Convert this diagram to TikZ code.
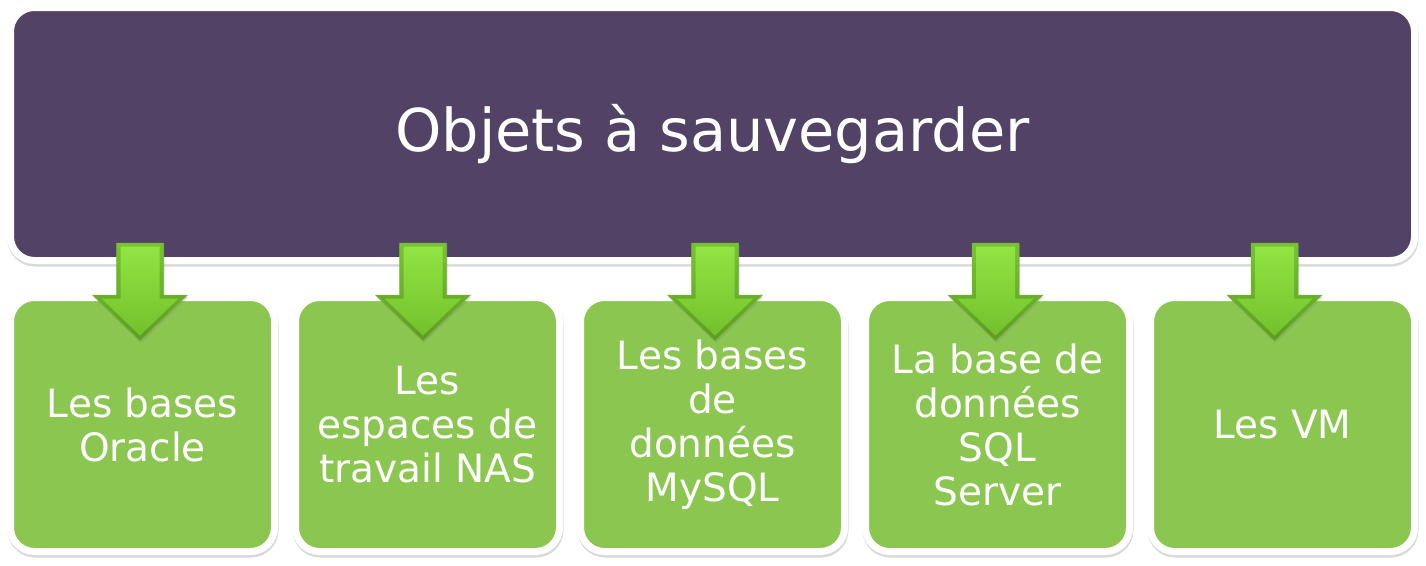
\documentclass[tikz,border=0pt]{standalone}
\usepackage{fontspec}
\setmainfont{DejaVu Sans}
\usetikzlibrary{positioning, shadows}

\definecolor{titlepurple}{RGB}{82,66,102}
\definecolor{boxgreen}{RGB}{139,199,80}
\definecolor{arrowlight}{RGB}{146,230,68}
\definecolor{arrowmid}{RGB}{118,196,46}
\definecolor{arrowdark}{RGB}{92,158,32}

\tikzset{
    titlebox/.style={rectangle, rounded corners=24pt, draw=white, line width=7pt, outer sep=0pt,
        fill=titlepurple, text=white, minimum width=1404pt, minimum height=253pt,
        font=\fontsize{59}{66}\selectfont,
        drop shadow={draw=black, line width=7pt, fill=none, opacity=.15, shadow xshift=.5pt, shadow yshift=-2.5pt}},
    itembox/.style={rectangle, rounded corners=24pt, draw=white, line width=7pt, outer sep=0pt,
        fill=boxgreen, text=white, minimum width=264pt, minimum height=254pt, align=center,
        font=\fontsize{39}{44}\selectfont,
        drop shadow={draw=black, line width=7pt, fill=none, opacity=.15, shadow xshift=.5pt, shadow yshift=-2.5pt}},
    arrowouter/.style={draw=arrowdark!80, line width=.5pt, top color=arrowmid, bottom color=arrowdark,
        drop shadow={opacity=.25, shadow xshift=1pt, shadow yshift=-2pt}},
    arrowinner/.style={top color=arrowlight, bottom color=arrowmid!90!arrowdark}
}

\begin{document}
\begin{tikzpicture}[x=1pt, y=-1pt, node distance=21pt]
    \useasboundingbox (0,0) rectangle (1426,565);

    \node[titlebox] (top) at (712.5,134) {Objets à sauvegarder};

    \node[itembox] (b1) at (142.5,424.5) {Les bases\\Oracle};
    \node[itembox, right=of b1] (b2) {Les\\espaces de\\travail NAS};
    \node[itembox, right=of b2] (b3) {Les bases\\de\\données\\MySQL};
    \node[itembox, right=of b3] (b4) {La base de\\données\\SQL\\Server};
    \node[itembox, right=of b4] (b5) {Les VM};

    % green arrows from the title down into each box
    \foreach \i/\dx in {1/-2.5, 2/-4.5, 3/2.5, 4/-2, 5/-8} {
        \coordinate (s\i) at ([xshift=\dx pt, yshift=17.5pt]b\i.north |- top.south);
        \path[arrowouter] (s\i) ++(-23.5,0) -- ++(47,0) -- ++(0,52) -- ++(24,0)
            -- ++(-47.5,46) -- ++(-47.5,-46) -- ++(24,0) -- cycle;
        \path[arrowinner] (s\i) ++(-19.5,3.5) -- ++(39,0) -- ++(0,52) -- ++(19,0)
            -- ++(-38.5,37) -- ++(-38.5,-37) -- ++(19,0) -- cycle;
    }
\end{tikzpicture}
\end{document}
